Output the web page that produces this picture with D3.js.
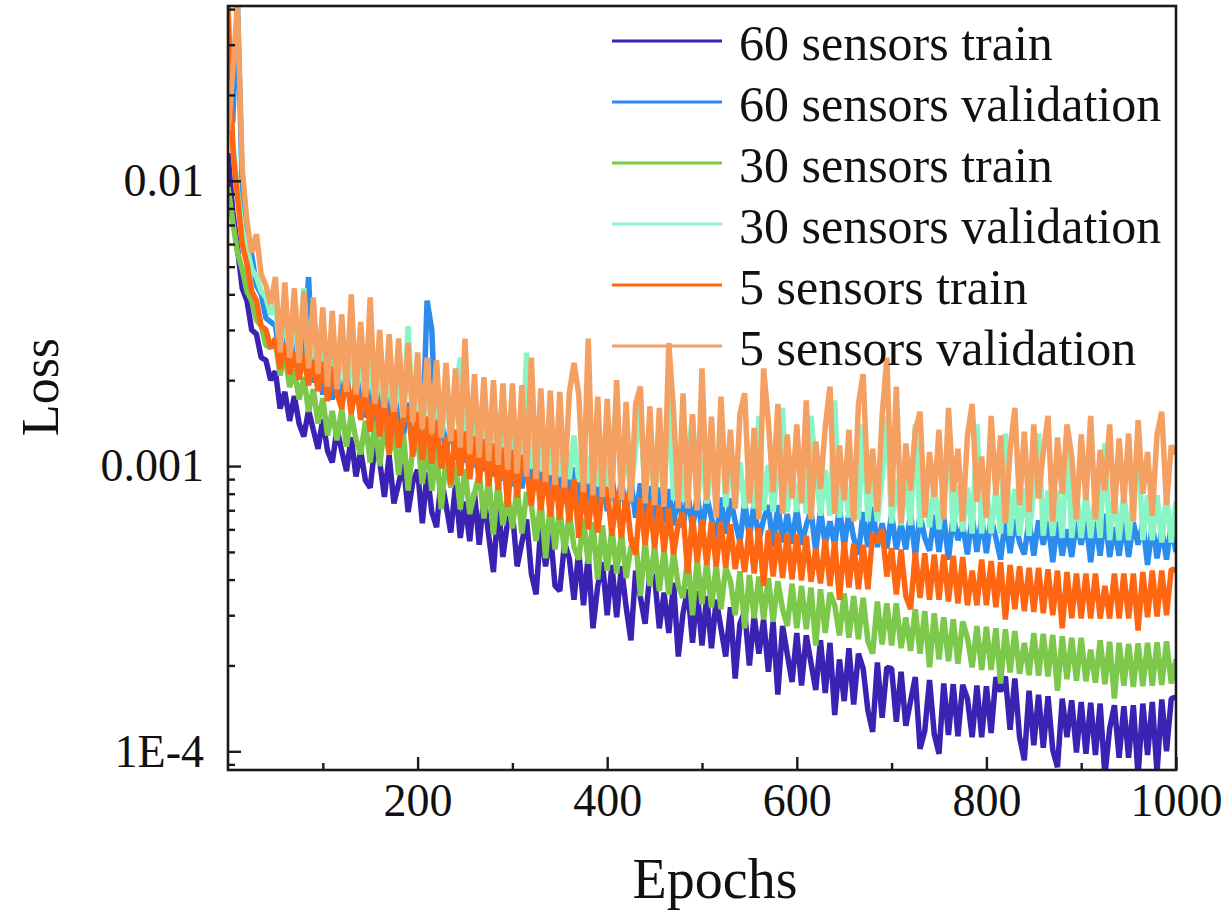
<!DOCTYPE html>
<html>
<head>
<meta charset="utf-8">
<script src="https://cdn.jsdelivr.net/npm/d3@7"></script>
<style>
  body { margin: 0; background: #fff; }
  svg text { font-family: "Liberation Serif", "Times New Roman", serif; fill: #111; }
</style>
</head>
<body>
<div id="chart"></div>
<script>
// Loss, in units of 1e-4, one value every 5 epochs (0 .. 1000)
const epochStep = 5;
const lossUnit = 1e-4;

const seriesNames = [
  "60 sensors train", "60 sensors validation",
  "30 sensors train", "30 sensors validation",
  "5 sensors train", "5 sensors validation"
];

const train60 = [125, 78, 58, 42, 38, 30, 29, 24, 23.5, 20,
  21.5, 15.9, 18.2, 14.4, 17.6, 14.1, 12.7, 15.7, 13.4, 11.5,
  14.6, 11.3, 10.3, 13.5, 11.3, 9.6, 12.6, 9.2, 11.3, 8.9,
  8.4, 11.8, 10.4, 7.8, 10.9, 7.4, 8.7, 10.2, 6.9, 8.8,
  9.7, 6.3, 9.5, 6.9, 6.1, 9.1, 7.3, 5.85, 8.6, 5.6,
  7.5, 5.45, 8.1, 5.3, 7.9, 5.7, 4.25, 7.4, 4.8, 6.4,
  6.9, 4.45, 5.4, 6.5, 4.2, 3.55, 6.15, 4.45, 5.9, 3.8,
  3.65, 5.4, 4.75, 3.4, 5.05, 3.25, 4.85, 2.7, 3.8, 4.6,
  3.0, 4.5, 2.95, 4.45, 3.2, 2.45, 4.3, 3.47, 2.8, 4.2,
  4.1, 2.7, 3.6, 2.6, 3.9, 2.15, 3.05, 3.7, 2.4, 3.65,
  2.35, 3.5, 2.3, 3.4, 2.7, 2.15, 3.2, 1.8, 2.8, 3.1,
  2.0, 3.0, 2.2, 2.9, 1.9, 2.85, 1.58, 2.75, 2.19, 1.75,
  2.6, 1.7, 2.55, 2.04, 1.64, 2.45, 1.6, 2.4, 1.34, 2.1,
  1.5, 2.3, 1.46, 2.2, 1.95, 1.39, 1.17, 2.05, 1.31, 1.97,
  1.95, 1.27, 1.9, 1.23, 1.5, 1.82, 1.02, 1.18, 1.78, 1.15,
  0.98, 1.73, 1.14, 1.72, 1.13, 1.71, 1.53, 1.12, 1.7, 1.12,
  1.69, 1.16, 1.82, 1.62, 1.83, 1.19, 1.8, 1.12, 0.93, 1.63,
  1.05, 1.58, 1.03, 1.56, 1.01, 0.88, 1.53, 1.12, 1.51, 0.99,
  1.49, 0.98, 1.48, 0.97, 1.47, 0.82, 1.2, 1.45, 0.95, 1.44,
  0.95, 1.45, 0.82, 1.47, 0.97, 1.49, 0.84, 1.52, 1.0, 1.53,
  1.55];

const val60 = [300, 160, 420, 95, 62, 55, 43, 40, 33, 32,
  31, 24, 29, 22.6, 27.5, 21.4, 24.9, 46, 19.6, 24,
  17.8, 23.1, 17.1, 22.2, 16.4, 21.3, 15.7, 18.9, 19.9, 14.8,
  19, 14.1, 18.4, 13.7, 17.7, 13.2, 17.1, 12.8, 16.7, 12.4,
  16.1, 12, 38, 30, 11.4, 14.8, 11, 14.4, 10.6, 13.8,
  10.3, 13.3, 9.9, 12.9, 9.6, 12.4, 9.2, 12, 8.9, 11.5,
  8.5, 11.2, 8.35, 10.9, 8.2, 10.7, 8.0, 10.5, 7.9, 10.3,
  7.65, 10.1, 7.55, 9.9, 7.4, 9.7, 7.25, 9.5, 7.1, 9.3,
  6.95, 9.2, 6.85, 9.0, 6.75, 8.9, 6.6, 8.7, 6.5, 8.5,
  6.35, 8.4, 6.3, 8.3, 6.2, 8.2, 6.1, 8.1, 6.0, 7.95,
  5.9, 7.8, 6.6, 5.5, 7.75, 5.8, 7.7, 6.4, 5.4, 7.5,
  5.6, 7.4, 5.5, 6.5, 7.3, 5.2, 7.3, 5.4, 6.8, 5.35,
  7.1, 5.3, 6.2, 7.0, 5.0, 7.0, 5.3, 6.4, 5.25, 7.2,
  5.2, 6.9, 5.6, 4.9, 6.9, 5.2, 7.2, 5.2, 6.3, 5.15,
  6.8, 5.1, 6.3, 5.1, 6.9, 4.8, 6.8, 5.6, 5.05, 6.75,
  5.0, 6.7, 4.7, 6.7, 5.5, 6.2, 4.9, 6.7, 5.0, 6.6,
  4.95, 6.55, 5.6, 4.7, 6.55, 4.95, 6.5, 5.4, 4.9, 6.5,
  4.85, 6.45, 5.3, 6.4, 4.6, 6.4, 4.85, 6.0, 4.8, 6.4,
  5.3, 6.4, 4.6, 6.4, 4.85, 6.8, 4.8, 6.1, 4.85, 6.4,
  4.8, 6.35, 5.3, 6.3, 4.5, 6.3, 4.75, 6.0, 4.7, 6.25,
  5.0];

const train30 = [95, 72, 56, 49, 41, 38, 32.5, 31, 26.5, 26,
  27.4, 20.8, 24.9, 18.9, 21.8, 17.1, 20.5, 15.5, 18.6, 14.1,
  17.3, 12.8, 15.6, 12.3, 15.9, 11.7, 15.2, 12.4, 11.0, 14.4,
  10.3, 14.4, 10.0, 13.9, 11.0, 13.4, 9.3, 13, 8.2, 11.6,
  12.5, 8.65, 11.9, 8.2, 11.3, 7.05, 10.7, 8.4, 10.2, 7.05,
  9.75, 6.8, 8.0, 9.4, 6.55, 9.15, 5.75, 8.9, 6.2, 7.95,
  6.05, 8.45, 5.8, 8.1, 7.3, 5.45, 7.6, 4.75, 7.4, 5.1,
  7.15, 4.95, 6.9, 5.2, 4.7, 6.55, 4.55, 6.35, 4.0, 6.2,
  4.3, 6.05, 4.2, 5.85, 4.05, 5.2, 5.6, 3.5, 5.45, 3.8,
  5.25, 3.65, 5.1, 3.55, 5.0, 3.8, 3.45, 4.8, 3.0, 4.7,
  3.28, 4.6, 3.2, 4.5, 3.15, 4.4, 3.95, 3.0, 4.28, 2.7,
  4.15, 2.93, 4.1, 2.9, 4.05, 2.85, 3.95, 3.15, 2.75, 3.87,
  2.7, 3.8, 2.68, 3.75, 2.35, 3.7, 2.6, 3.6, 3.25, 2.55,
  3.57, 2.5, 3.5, 2.47, 3.45, 2.43, 2.2, 3.35, 2.37, 3.3,
  2.35, 3.3, 2.3, 2.95, 2.25, 3.15, 2.2, 3.1, 1.97, 3.05,
  2.1, 2.95, 2.07, 2.9, 2.03, 2.85, 2.5, 1.97, 2.75, 1.93,
  2.73, 1.93, 2.7, 1.73, 2.68, 1.89, 2.64, 1.87, 2.4, 1.85,
  2.6, 1.84, 2.58, 1.83, 2.56, 1.63, 2.53, 1.79, 2.5, 1.77,
  2.5, 1.76, 2.27, 1.74, 2.45, 1.72, 2.42, 1.53, 2.4, 1.7,
  2.38, 1.68, 2.39, 1.69, 2.4, 1.7, 2.41, 1.71, 2.43, 1.73,
  2.1];

const val30 = [200, 140, 92, 68, 58, 49, 46, 41, 39, 34,
  37, 25.2, 35, 23.8, 33.5, 22.7, 42, 21.5, 30, 20.4,
  28, 19.2, 27, 18.6, 26, 17.9, 25, 17.3, 24.5, 16.7,
  23.4, 16, 22.6, 15.4, 21.7, 14.8, 21, 14.3, 31, 13.8,
  19.4, 13.3, 19, 12.9, 18.4, 12.6, 17.9, 12.3, 17.3, 24,
  11.7, 16.6, 11.4, 16.2, 11.1, 15.8, 10.8, 15.4, 10.6, 15,
  10.3, 14.6, 10, 25, 9.8, 13.9, 9.6, 13.7, 9.3, 13.3,
  9.2, 13.1, 9.0, 12.8, 8.8, 12.6, 8.7, 12.3, 8.5, 12.1,
  8.3, 11.8, 17, 8.1, 11.6, 8.0, 11.5, 16, 7.9, 11.4,
  7.8, 11.2, 7.7, 17.5, 7.6, 11, 7.5, 10.9, 15, 7.5,
  10.7, 7.4, 10.6, 7.3, 16, 7.2, 10.4, 7.2, 10.3, 7.1,
  10.2, 7.1, 15, 7.0, 10.1, 6.9, 10.0, 16, 6.9, 9.9,
  6.9, 9.9, 6.8, 15, 9.8, 6.7, 9.7, 6.7, 17, 6.6,
  9.5, 6.6, 9.4, 6.5, 14, 6.4, 9.2, 6.4, 9.1, 15,
  6.3, 9.0, 6.2, 8.9, 6.2, 14, 6.1, 8.8, 6.1, 8.7,
  6.0, 8.6, 13.5, 5.9, 8.5, 5.9, 8.4, 5.8, 14, 5.8,
  8.4, 5.8, 8.3, 5.8, 13, 5.7, 8.3, 5.7, 8.3, 5.7,
  8.2, 13, 5.7, 8.2, 5.7, 8.2, 5.6, 12.5, 5.6, 8.1,
  5.6, 8.1, 5.6, 8.1, 5.6, 12, 5.5, 8.0, 5.5, 8.0,
  5.5, 8.0, 12.5, 5.5, 7.9, 5.5, 7.9, 5.4, 7.9, 5.4,
  7.5];

const train5 = [420, 130, 88, 60, 51, 41, 38, 31, 30, 26,
  28, 21.9, 26.9, 21, 25, 20.1, 24.6, 19.2, 23.5, 18.3,
  23.2, 16.9, 22.3, 17.9, 15.9, 20.9, 15.2, 20, 14.5, 19,
  13.2, 18.6, 12.7, 17.9, 11.0, 17.0, 11.6, 14.7, 16, 10.8,
  15.4, 10.5, 14.9, 10.2, 14.4, 9.8, 12.6, 8.6, 13.4, 9.25,
  13.2, 9.0, 12.7, 8.75, 12.4, 8.5, 12, 8.25, 11.6, 7.2,
  11.4, 7.75, 10.9, 9.7, 7.25, 10.2, 7.0, 9.85, 6.65, 9.5,
  6.5, 9.25, 6.35, 9.0, 5.6, 8.75, 6.0, 8.5, 5.85, 8.3,
  8.3, 5.7, 8.1, 5.6, 8.0, 5.5, 4.9, 7.7, 5.3, 7.55,
  5.15, 7.3, 5.0, 7.1, 4.9, 6.3, 6.85, 4.2, 6.65, 4.6,
  6.5, 4.5, 6.4, 4.45, 6.35, 4.4, 6.25, 4.35, 5.55, 4.25,
  6.1, 4.2, 6.05, 3.8, 5.95, 4.1, 5.85, 4.05, 5.8, 4.0,
  5.75, 3.97, 5.7, 3.93, 5.15, 3.88, 5.55, 3.8, 5.45, 3.4,
  5.4, 3.75, 5.35, 3.7, 5.3, 3.7, 5.8, 5.4, 6.0, 4.1,
  5.15, 3.55, 5.1, 3.5, 3.15, 5.0, 3.45, 4.95, 3.4, 4.9,
  3.4, 4.9, 3.35, 4.85, 3.3, 4.8, 3.25, 4.3, 3.25, 4.7,
  3.25, 4.65, 3.2, 4.6, 2.9, 4.5, 3.15, 4.45, 3.1, 4.4,
  3.08, 4.4, 3.05, 4.35, 3.0, 4.3, 2.7, 4.25, 2.93, 4.2,
  2.92, 4.2, 2.92, 4.2, 2.92, 3.8, 2.92, 4.2, 2.92, 4.2,
  2.92, 4.2, 2.65, 4.25, 2.95, 4.3, 2.97, 4.3, 3.0, 4.35,
  4.3];

const val5 = [150, 240, 420, 110, 72, 56, 65, 47, 43, 37,
  46, 25, 44, 24, 42, 23, 41, 22, 39, 21,
  36, 19, 35, 18.6, 34, 18.2, 40, 17.8, 32, 17.4,
  39, 16.5, 30, 16, 29, 15.5, 28, 14.8, 27, 14.3,
  25, 13.5, 24, 13, 23.5, 12.6, 23, 12.2, 22, 11.6,
  28, 11, 21, 10.7, 20.5, 10.4, 20, 10.1, 19.5, 9.7,
  19.5, 9.4, 19.2, 9.2, 24, 9.0, 18.7, 8.8, 18.4, 8.6,
  18.2, 8.4, 18, 23, 17.8, 8.1, 28, 7.9, 17.5, 7.8,
  17.2, 7.7, 20, 7.6, 16.8, 7.5, 16.5, 19, 7.4, 16.2,
  7.3, 16, 7.2, 27, 15.6, 7.1, 18, 7.1, 15.2, 7.0,
  22, 7.6, 14.9, 6.6, 17.5, 8.0, 13.4, 7.1, 15.2, 18,
  7.4, 13.6, 6.5, 22, 14.3, 8.1, 16.5, 6.8, 12.9, 7.7,
  14, 7.4, 17, 6.5, 12.2, 8.3, 13.7, 19, 6.8, 11.8,
  7.6, 13.4, 6.4, 16.5, 21, 8.0, 11.5, 6.9, 15, 24,
  7.2, 19, 6.3, 12, 8.2, 13.3, 15.5, 6.6, 11.2, 7.8,
  13.4, 6.5, 16, 8.1, 11.5, 6.4, 12.8, 16.5, 7.5, 10.8,
  6.6, 15, 7.9, 12.8, 6.3, 11.4, 16, 7.3, 13.2, 6.9,
  14, 7.7, 11.2, 15, 6.4, 12.6, 8.0, 14, 10.8, 6.5,
  12.9, 7.6, 15, 6.5, 11.4, 8.2, 14, 6.8, 12.5, 7.4,
  13, 6.4, 14.5, 8.0, 11.2, 6.7, 12.9, 15.5, 7.3, 11.8,
  11];

const xTickValues = [200, 400, 600, 800, 1000];
const xMinorTickValues = [100, 300, 500, 700, 900];
const yTickValues = [1e-4, 1e-3, 1e-2];
const yTickLabels = ["1E-4", "0.001", "0.01"];

class LossChart {
  constructor(_config, _data) {
    this.config = {
      parentElement: _config.parentElement,
      colors: _config.colors,
      containerWidth: 1229,
      containerHeight: 923,
      margin: { top: 6, right: 53, bottom: 153, left: 228 },
      yDomain: [8.6e-5, 0.041],
      lineWidth: 5.5,
    };
    this.data = _data;
    this.initVis();
  }

  initVis() {
    let vis = this;

    vis.width = vis.config.containerWidth - vis.config.margin.left - vis.config.margin.right;
    vis.height = vis.config.containerHeight - vis.config.margin.top - vis.config.margin.bottom;

    vis.xScale = d3.scaleLinear().domain([0, 1000]).range([0, vis.width]);
    vis.yScale = d3.scaleLog().domain(vis.config.yDomain).range([vis.height, 0]);

    vis.svg = d3
      .select(vis.config.parentElement)
      .append("svg")
      .attr("width", vis.config.containerWidth)
      .attr("height", vis.config.containerHeight);

    vis.svg.append("rect")
      .attr("width", vis.config.containerWidth)
      .attr("height", vis.config.containerHeight)
      .attr("fill", "#fff");

    vis.chartArea = vis.svg
      .append("g")
      .attr("transform", `translate(${vis.config.margin.left},${vis.config.margin.top})`);

    vis.chartArea
      .append("defs")
      .append("clipPath")
      .attr("id", "plot-mask")
      .append("rect")
      .attr("width", vis.width)
      .attr("height", vis.height);

    vis.chart = vis.chartArea.append("g").attr("clip-path", "url(#plot-mask)");

    vis.renderVis();
    vis.renderAxes();
    vis.renderLegend();
  }

  renderVis() {
    let vis = this;

    const line = d3
      .line()
      .x((d, i) => vis.xScale(i * epochStep))
      .y((d) => vis.yScale(d * lossUnit));

    vis.chart
      .selectAll(".series")
      .data(vis.data)
      .join("path")
      .attr("class", "series")
      .attr("fill", "none")
      .attr("stroke", (d, i) => vis.config.colors[i])
      .attr("stroke-width", vis.config.lineWidth)
      .attr("stroke-linejoin", "bevel")
      .attr("d", (d) => line(d.values));
  }

  renderAxes() {
    let vis = this;
    const tickFont = 46;

    // Minor ticks first, then labelled ones; all ticks point inward
    const xMinor = d3.axisBottom(vis.xScale).tickValues(xMinorTickValues).tickSize(-7).tickFormat("");
    const xMajor = d3
      .axisBottom(vis.xScale)
      .tickValues(xTickValues)
      .tickSize(-13)
      .tickPadding(13)
      .tickFormat(d3.format("d"));

    const yMinorValues = vis.yScale.ticks().filter((v) => !yTickValues.some((t) => Math.abs(t - v) / t < 1e-6));
    const yMinor = d3.axisLeft(vis.yScale).tickValues(yMinorValues).tickSize(-7).tickFormat("");
    const yMajor = d3
      .axisLeft(vis.yScale)
      .tickValues(yTickValues)
      .tickSize(-13)
      .tickPadding(24)
      .tickFormat((d, i) => yTickLabels[i]);

    const xG = vis.chartArea.append("g").attr("transform", `translate(0,${vis.height})`);
    xG.append("g").call(xMinor);
    xG.append("g").call(xMajor);

    const yG = vis.chartArea.append("g");
    yG.append("g").call(yMinor);
    yG.append("g").call(yMajor);

    vis.chartArea.selectAll(".domain").remove();
    vis.chartArea.selectAll(".tick line").attr("stroke", "#1a1a1a").attr("stroke-width", 2.4);
    vis.chartArea
      .selectAll(".tick text")
      .attr("font-size", tickFont)
      .attr("font-family", '"Liberation Serif", serif')
      .attr("fill", "#111");

    // Frame around the plot
    vis.chartArea
      .append("rect")
      .attr("width", vis.width)
      .attr("height", vis.height)
      .attr("fill", "none")
      .attr("stroke", "#1a1a1a")
      .attr("stroke-width", 2.6);

    vis.svg
      .append("text")
      .attr("x", 715)
      .attr("y", 898)
      .attr("text-anchor", "middle")
      .attr("font-size", 56)
      .text("Epochs");

    vis.svg
      .append("text")
      .attr("transform", "translate(58,387) rotate(-90)")
      .attr("text-anchor", "middle")
      .attr("font-size", 52)
      .text("Loss");
  }

  renderLegend() {
    let vis = this;

    const legend = vis.svg.append("g").attr("transform", "translate(612,44)");

    const row = legend
      .selectAll(".legend-row")
      .data(vis.data)
      .join("g")
      .attr("class", "legend-row")
      .attr("transform", (d, i) => `translate(0,${i * 61})`);

    row
      .append("line")
      .attr("x1", 0)
      .attr("x2", 110)
      .attr("y1", -3)
      .attr("y2", -3)
      .attr("stroke", (d, i) => vis.config.colors[i])
      .attr("stroke-width", 3);

    row
      .append("text")
      .attr("x", 127)
      .attr("y", 16)
      .attr("font-size", 50)
      .text((d) => d.name);
  }
}

const seriesValues = [train60, val60, train30, val30, train5, val5];
const chartData = seriesNames.map((name, i) => ({ name: name, values: seriesValues[i] }));

new LossChart(
  {
    parentElement: "#chart",
    colors: ["#3b22b3", "#2b8cee", "#7cc84a", "#8af5c4", "#ff6612", "#f4a062"],
  },
  chartData
);
</script>
</body>
</html>
